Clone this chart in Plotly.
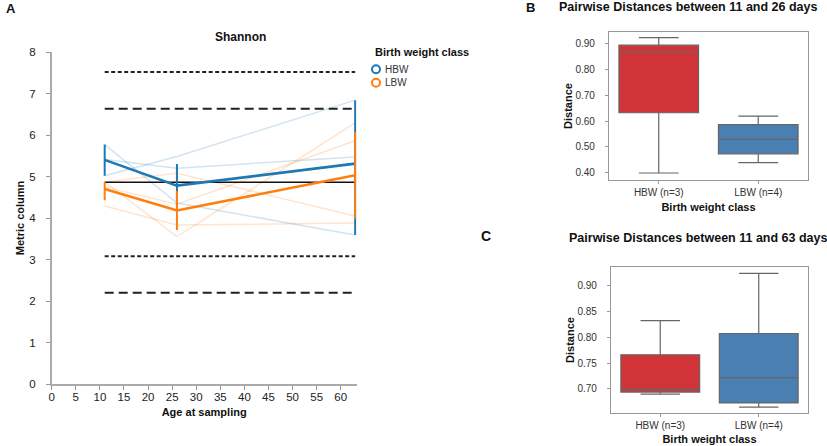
import plotly.graph_objects as go

# ---------------- data ----------------
ages = [11, 26, 63]

hbw_subjects = [
    [5.77, 4.36, 3.59],
    [5.02, 5.48, 6.84],
    [5.41, 5.20, 5.47],
]
lbw_subjects = [
    [4.87, 5.08, 4.05],
    [4.29, 3.83, 3.88],
    [4.87, 3.55, 6.29],
    [4.75, 4.33, 5.86],
]
hbw_mean = [5.40, 4.78, 5.31]
hbw_upper = [5.77, 5.30, 6.84]
hbw_lower = [5.02, 4.26, 3.59]
lbw_mean = [4.70, 4.18, 5.03]
lbw_upper = [4.87, 4.65, 6.07]
lbw_lower = [4.43, 3.71, 3.99]

ref_solid = 4.86
ref_short_dash = [7.52, 3.08]
ref_long_dash = [6.63, 2.20]

legend_labels = ["HBW", "LBW"]
box_categories = ["HBW (n=3)", "LBW (n=4)"]
# panel B: 11 vs 26 days  [lower whisker, q1, median, q3, upper whisker]
b_hbw = [0.399, 0.632, 0.866, 0.893, 0.922]
b_lbw = [0.439, 0.473, 0.529, 0.586, 0.619]
# panel C: 11 vs 63 days
c_hbw = [0.690, 0.694, 0.700, 0.766, 0.832]
c_lbw = [0.665, 0.673, 0.722, 0.807, 0.923]

b_ticks = [0.40, 0.50, 0.60, 0.70, 0.80, 0.90]
c_ticks = [0.70, 0.75, 0.80, 0.85, 0.90]

BLUE = "#1f77b4"
ORANGE = "#ff7f0e"
RED_BOX = "#d13438"
BLUE_BOX = "#4a7fb1"
FONT = "Liberation Sans, Arial, sans-serif"

W, H = 827, 446
def px_x(a, b):
    return [a / W, b / W]
def px_y(top, bottom):
    return [1 - bottom / H, 1 - top / H]

fig = go.Figure()

# ---- Panel A ----
xr = [0, 63.3]
x_left, x_per = 51.7, 4.817
for s in hbw_subjects:
    fig.add_trace(go.Scatter(x=ages, y=s, mode="lines", line=dict(color="rgba(31,119,180,0.2)", width=1.5),
                             showlegend=False, hoverinfo="skip", xaxis="x", yaxis="y"))
for s in lbw_subjects:
    fig.add_trace(go.Scatter(x=ages, y=s, mode="lines", line=dict(color="rgba(255,127,14,0.2)", width=1.5),
                             showlegend=False, hoverinfo="skip", xaxis="x", yaxis="y"))

x_span = [ages[0], ages[-1]]
for v in ref_short_dash:
    fig.add_trace(go.Scatter(x=x_span, y=[v, v], mode="lines", line=dict(color="#222", width=2, dash="4px,2.5px"),
                             showlegend=False, hoverinfo="skip", xaxis="x", yaxis="y"))
for v in ref_long_dash:
    fig.add_trace(go.Scatter(x=x_span, y=[v, v], mode="lines", line=dict(color="#222", width=2, dash="9px,5px"),
                             showlegend=False, hoverinfo="skip", xaxis="x", yaxis="y"))
fig.add_trace(go.Scatter(x=x_span, y=[ref_solid, ref_solid], mode="lines", line=dict(color="#111", width=1.6),
                         showlegend=False, hoverinfo="skip", xaxis="x", yaxis="y"))

def err(mean, up, lo):
    return dict(type="data", symmetric=False,
                array=[u - m for u, m in zip(up, mean)],
                arrayminus=[m - l for m, l in zip(mean, lo)],
                width=0, thickness=2)

fig.add_trace(go.Scatter(x=ages, y=hbw_mean, mode="lines", line=dict(color=BLUE, width=2.6),
                         error_y=dict(color=BLUE, **err(hbw_mean, hbw_upper, hbw_lower)),
                         showlegend=False, xaxis="x", yaxis="y", cliponaxis=False))
fig.add_trace(go.Scatter(x=ages, y=lbw_mean, mode="lines", line=dict(color=ORANGE, width=2.6),
                         error_y=dict(color=ORANGE, **err(lbw_mean, lbw_upper, lbw_lower)),
                         showlegend=False, xaxis="x", yaxis="y", cliponaxis=False))

# ---- Panels B and C ----
def add_box(vals, cat, color, xa, ya):
    lo, q1, med, q3, hi = vals
    fig.add_trace(go.Box(x=[cat], q1=[q1], median=[med], q3=[q3], lowerfence=[lo], upperfence=[hi],
                         fillcolor=color, line=dict(color="#666", width=1.2), width=0.8,
                         whiskerwidth=0.5, showlegend=False, xaxis=xa, yaxis=ya, hoverinfo="skip"))

add_box(b_hbw, box_categories[0], RED_BOX, "x2", "y2")
add_box(b_lbw, box_categories[1], BLUE_BOX, "x2", "y2")
add_box(c_hbw, box_categories[0], RED_BOX, "x3", "y3")
add_box(c_lbw, box_categories[1], BLUE_BOX, "x3", "y3")

tickfont = dict(family=FONT, size=11.5, color="#222")
axis_common = dict(showgrid=False, zeroline=False, showline=True, linecolor="#aaa", linewidth=1.5,
                   ticks="outside", ticklen=4, tickcolor="#999", tickwidth=1.2, tickfont=tickfont,
                   automargin=False)
box_axis = dict(showgrid=False, zeroline=False, showline=True, linecolor="#999", linewidth=1.2, mirror=True,
                ticks="outside", ticklen=3, tickcolor="#999", tickfont=dict(family=FONT, size=10, color="#333"),
                automargin=False)

b_range = [0.372, 0.944]
c_range = [0.653, 0.936]
tfont = dict(family=FONT, size=11, color="#111")

fig.update_layout(
    template="none",
    width=W, height=H, margin=dict(l=0, r=0, t=0, b=0, pad=0, autoexpand=False),
    paper_bgcolor="white", plot_bgcolor="white",
    font=dict(family=FONT, color="#111"),
    boxmode="overlay", showlegend=False,
    xaxis=dict(domain=px_x(x_left, x_left + xr[1] * x_per), range=xr, tickmode="array",
               tickvals=list(range(0, 61, 5)), anchor="y", ticklabelstandoff=-3,
               title=dict(text="<b>Age at sampling</b>", font=tfont, standoff=7),
               **axis_common),
    yaxis=dict(domain=px_y(52, 384), range=[0, 8], dtick=1, anchor="x", ticklabelstandoff=8,
               title=dict(text="<b>Metric column</b>", font=tfont, standoff=2),
               **axis_common),
    xaxis2=dict(domain=px_x(609, 808), anchor="y2", range=[-0.5, 1.5],
                title=dict(text="<b>Birth weight class</b>", font=tfont, standoff=6),
                **box_axis),
    yaxis2=dict(domain=px_y(32, 180), anchor="x2", range=b_range, tickmode="array", tickvals=b_ticks,
                tickformat=".2f", ticklabelstandoff=8,
                title=dict(text="<b>Distance</b>", font=tfont, standoff=0),
                **box_axis),
    xaxis3=dict(domain=px_x(611, 808), anchor="y3", range=[-0.5, 1.5],
                title=dict(text="<b>Birth weight class</b>", font=tfont, standoff=4),
                **box_axis),
    yaxis3=dict(domain=px_y(266.7, 413.3), anchor="x3", range=c_range, tickmode="array", tickvals=c_ticks,
                tickformat=".2f", ticklabelstandoff=8,
                title=dict(text="<b>Distance</b>", font=tfont, standoff=0),
                **box_axis),
)

ann = [
    dict(text="<b>A</b>", x=4, y=8, size=13, xa="left"),
    dict(text="<b>Shannon</b>", x=240, y=37, size=12, xa="center"),
    dict(text="<b>B</b>", x=530, y=7, size=13, xa="center"),
    dict(text="<b>Pairwise Distances between 11 and 26 days</b>", x=688, y=7, size=12.5, xa="center"),
    dict(text="<b>C</b>", x=486, y=236, size=14, xa="center"),
    dict(text="<b>Pairwise Distances between 11 and 63 days</b>", x=698, y=238, size=12.5, xa="center"),
    dict(text="<b>Birth weight class</b>", x=373, y=52, size=11, xa="left"),
]
for a in ann:
    fig.add_annotation(xref="paper", yref="paper", showarrow=False, xanchor=a["xa"], yanchor="middle",
                       text=a["text"], x=a["x"] / W, y=1 - a["y"] / H,
                       font=dict(family=FONT, size=a["size"], color="#111"))

# manual legend (glyph + label)
for i, (lab, col) in enumerate(zip(legend_labels, [BLUE, ORANGE])):
    cy = 69.3 + 13.4 * i
    fig.add_shape(type="circle", xref="paper", yref="paper",
                  x0=(376 - 4) / W, x1=(376 + 4) / W, y0=1 - (cy + 4) / H, y1=1 - (cy - 4) / H,
                  line=dict(color=col, width=2), fillcolor="rgba(0,0,0,0)")
    fig.add_annotation(xref="paper", yref="paper", showarrow=False, xanchor="left", yanchor="middle",
                       text=lab, x=383 / W, y=1 - cy / H, font=dict(family=FONT, size=10, color="#333"))

fig.write_html("out.html", config={"displayModeBar": False},
               post_script="document.body.style.margin='0';document.body.style.padding='0';")
